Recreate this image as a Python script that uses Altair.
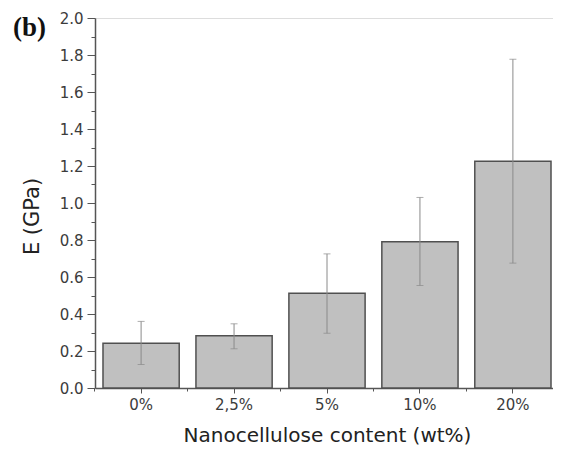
import altair as alt
import pandas as pd

categories = ["0%", "2,5%", "5%", "10%", "20%"]
modulus = [0.242, 0.282, 0.512, 0.790, 1.226]
err_low = [0.127, 0.212, 0.296, 0.554, 0.675]
err_high = [0.360, 0.347, 0.725, 1.030, 1.777]
y_major = [0.0, 0.2, 0.4, 0.6, 0.8, 1.0, 1.2, 1.4, 1.6, 1.8, 2.0]
y_minor = [0.1, 0.3, 0.5, 0.7, 0.9, 1.1, 1.3, 1.5, 1.7, 1.9]
panel_label = ["(b)"]

df = pd.DataFrame({"cat": categories, "E": modulus, "lo": err_low, "hi": err_high})
df_label = pd.DataFrame({"label": panel_label})

FONT = "DejaVu Sans"
TXT = "#3c3c3c"
AX = "#555555"

xscale = alt.Scale(domain=categories, paddingInner=0.18, paddingOuter=0.086)
yscale = alt.Scale(domain=[0, 2], nice=False, zero=True)

major_x = alt.Axis(title="Nanocellulose content (wt%)", labelFont=FONT, labelFontSize=15,
                   labelColor=TXT, labelAngle=0, labelPadding=4, tickSize=5, tickColor=AX,
                   domainColor=AX, domainWidth=1.5, titleFont=FONT, titleFontSize=20,
                   titleFontWeight="normal", titleColor="#222222", titleBaseline="alphabetic",
                   titleY=53, grid=False)
major_y = alt.Axis(title="E (GPa)", values=y_major, format=".1f", labelFont=FONT,
                   labelFontSize=15, labelColor=TXT, labelPadding=4, tickSize=8,
                   tickColor=AX, domainColor=AX, domainWidth=1.5, titleFont=FONT,
                   titleFontSize=21, titleFontWeight="normal", titleColor="#222222",
                   titleBaseline="alphabetic", titleX=-57, titleY=198, grid=False,
                   orient="left")
minor_x = alt.Axis(title=None, labels=False, domain=False, tickSize=3, tickColor=AX,
                   bandPosition=-0.11, grid=False, orient="bottom")
minor_y = alt.Axis(title=None, labels=False, domain=False, tickSize=4, tickColor=AX,
                   values=y_minor, grid=False, orient="left")

base = alt.Chart(df)

bars = base.mark_bar(fill="#c0c0c0", stroke="#505050", strokeWidth=1.5).encode(
    x=alt.X("cat:N", scale=xscale, sort=categories, axis=major_x),
    y=alt.Y("E:Q", scale=yscale, axis=major_y),
)
rules = base.mark_rule(color="#8a8a8a", strokeWidth=1).encode(
    x=alt.X("cat:N", scale=xscale, sort=categories, axis=minor_x),
    y=alt.Y("lo:Q", scale=yscale, axis=minor_y),
    y2="hi:Q",
)
cap_lo = base.mark_tick(color="#8a8a8a", thickness=1, size=7).encode(
    x=alt.X("cat:N", scale=xscale, sort=categories, axis=None),
    y=alt.Y("lo:Q", scale=yscale, axis=None),
)
cap_hi = base.mark_tick(color="#8a8a8a", thickness=1, size=7).encode(
    x=alt.X("cat:N", scale=xscale, sort=categories, axis=None),
    y=alt.Y("hi:Q", scale=yscale, axis=None),
)
label = alt.Chart(df_label).mark_text(
    font="Liberation Serif", fontSize=27, fontWeight="bold", color="#111111",
    align="left", baseline="alphabetic",
).encode(text="label:N", x=alt.value(-82), y=alt.value(18))

chart = alt.layer(bars, rules, cap_lo, cap_hi, label).resolve_axis(
    x="independent", y="independent"
).properties(
    width=464, height=370,
    padding={"left": 87, "top": 10, "right": -6, "bottom": 61},
    autosize="none",
).configure_view(stroke="#777777", strokeWidth=1.5).configure(background="white")

chart.save("out.html", embed_options={"renderer": "svg", "actions": False})
